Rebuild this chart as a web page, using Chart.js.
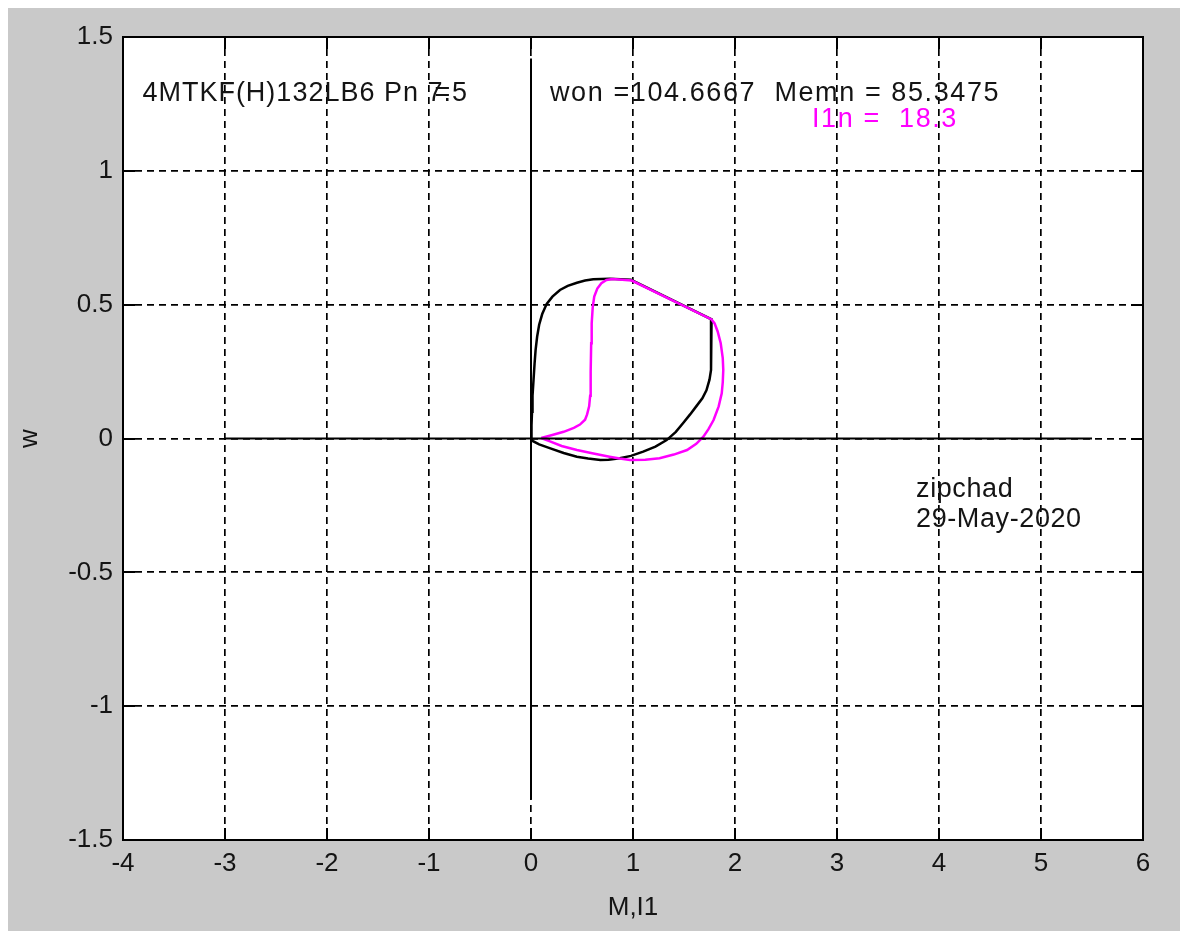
<!DOCTYPE html>
<html>
<head>
<meta charset="utf-8">
<script src="https://cdn.jsdelivr.net/npm/chart.js@4.4.1/dist/chart.umd.min.js"></script>
<style>
  html, body { margin: 0; padding: 0; background: #ffffff; }
  #wrap { position: relative; width: 1180px; height: 931px; }
</style>
</head>
<body>
<div id="wrap"><canvas id="c" width="1180" height="931"></canvas></div>
<script>
// M (black) and I1 (magenta) against w, both traced as closed loops
const blackM = [0, 0.005, 0.01, 0.015, 0.025, 0.035, 0.045, 0.06, 0.08, 0.11, 0.154, 0.21, 0.284, 0.36,
  0.45, 0.53, 0.61, 0.77, 0.98, 1.77, 1.765, 1.765, 1.765, 1.75, 1.72, 1.68, 1.62, 1.56, 1.49, 1.42,
  1.33, 1.22, 1.10, 0.98, 0.87, 0.76, 0.68, 0.56, 0.45, 0.32, 0.19, 0.08, 0.02, 0];
const blackW = [0, 0.05, 0.10, 0.16, 0.22, 0.28, 0.33, 0.38, 0.425, 0.465, 0.503, 0.53, 0.555, 0.57,
  0.582, 0.59, 0.595, 0.597, 0.593, 0.445, 0.43, 0.35, 0.256, 0.22, 0.18, 0.15, 0.12, 0.09, 0.057, 0.025,
  -0.006, -0.03, -0.049, -0.065, -0.074, -0.079, -0.08, -0.075, -0.068, -0.054, -0.037, -0.022, -0.01, 0];

const magentaI1 = [0.10, 0.20, 0.32, 0.42, 0.48, 0.53, 0.55, 0.57, 0.58, 0.585, 0.59, 0.595, 0.605, 0.62,
  0.65, 0.69, 0.74, 0.80, 0.987, 1.77, 1.80, 1.83, 1.86, 1.88, 1.885, 1.88, 1.87, 1.84, 1.79, 1.74,
  1.69, 1.62, 1.53, 1.40, 1.26, 1.12, 0.97, 0.87, 0.77, 0.60, 0.45, 0.30, 0.18, 0.10];
const magentaW = [0.002, 0.012, 0.025, 0.04, 0.052, 0.07, 0.09, 0.12, 0.16, 0.25, 0.356, 0.43, 0.49, 0.53,
  0.56, 0.58, 0.592, 0.596, 0.59, 0.445, 0.43, 0.40, 0.356, 0.30, 0.256, 0.21, 0.169, 0.12, 0.069, 0.035,
  0.007, -0.02, -0.043, -0.06, -0.074, -0.079, -0.08, -0.075, -0.068, -0.055, -0.043, -0.028, -0.01, 0.002];

// Reference axes through the origin
const hAxisM = [-3, 5.5];
const hAxisW = [0, 0];
const vAxisM = [0, 0];
const vAxisW = [-1.35, 1.42];

const xTicks = [-4, -3, -2, -1, 0, 1, 2, 3, 4, 5, 6];
const yTicks = [-1.5, -1, -0.5, 0, 0.5, 1, 1.5];
const xTitle = 'M,I1';
const yTitle = 'w';

const headText = '4MTKF(H)132LB6 Pn 7.5';
const ratedText = 'won =104.6667  Memn = 85.3475';
const currentText = 'I1n =  18.3';
const authorText = 'zipchad';
const dateText = '29-May-2020';

const zip = (xs, ys) => xs.map((x, i) => ({ x: x, y: ys[i] }));
const FONT = "'Liberation Sans', Arial, sans-serif";
const INK = '#141414';

const bgPlugin = {
  id: 'figureBackground',
  beforeDraw(chart) {
    const ctx = chart.ctx;
    ctx.save();
    ctx.fillStyle = '#ffffff';
    ctx.fillRect(0, 0, chart.width, chart.height);
    ctx.fillStyle = '#c9c9c9';
    ctx.fillRect(8, 8, chart.width - 8, chart.height - 8);
    const a = chart.chartArea;
    ctx.fillStyle = '#ffffff';
    ctx.fillRect(a.left, a.top, a.right - a.left, a.bottom - a.top);
    ctx.restore();
  }
};

const framePlugin = {
  id: 'boxFrame',
  afterDatasetsDraw(chart) {
    const ctx = chart.ctx;
    const a = chart.chartArea;
    const sx = chart.scales.x, sy = chart.scales.y;
    const len = 12;
    ctx.save();
    ctx.strokeStyle = '#000';
    ctx.lineWidth = 2;
    ctx.beginPath();
    xTicks.forEach(v => {
      const px = Math.round(sx.getPixelForValue(v));
      ctx.moveTo(px, a.bottom); ctx.lineTo(px, a.bottom - len);
      ctx.moveTo(px, a.top); ctx.lineTo(px, a.top + len);
    });
    yTicks.forEach(v => {
      const py = Math.round(sy.getPixelForValue(v));
      ctx.moveTo(a.left, py); ctx.lineTo(a.left + len, py);
      ctx.moveTo(a.right, py); ctx.lineTo(a.right - len, py);
    });
    ctx.stroke();
    ctx.strokeRect(a.left, a.top, a.right - a.left, a.bottom - a.top);

    // text notes placed in data coordinates
    const put = (txt, x, y, color, spacing) => {
      ctx.font = '27px ' + FONT;
      ctx.letterSpacing = spacing + 'px';
      ctx.fillStyle = color;
      ctx.textAlign = 'left';
      ctx.textBaseline = 'alphabetic';
      ctx.fillText(txt, sx.getPixelForValue(x), sy.getPixelForValue(y));
    };
    put(headText, -3.81, 1.262, INK, 1.0);
    // the '=' sign overprinted on the rating value
    ctx.font = '27px ' + FONT;
    ctx.letterSpacing = '1px';
    const wPre = ctx.measureText('4MTKF(H)132LB6 Pn 7').width;
    put('=', -3.81 + (wPre - 9) / (sx.getPixelForValue(1) - sx.getPixelForValue(0)), 1.262, INK, 0);
    put(ratedText, 0.186, 1.262, INK, 1.6);
    put(currentText, 2.755, 1.163, '#ff00ff', 1.6);
    put(authorText, 3.775, -0.219, INK, 0.6);
    put(dateText, 3.775, -0.330, INK, 0.6);
    ctx.restore();
  }
};

new Chart(document.getElementById('c'), {
  type: 'scatter',
  data: {
    datasets: [
      { data: zip(hAxisM, hAxisW), showLine: true, borderColor: '#000', borderWidth: 2, pointRadius: 0 },
      { data: zip(vAxisM, vAxisW), showLine: true, borderColor: '#000', borderWidth: 2, pointRadius: 0 },
      { data: zip(magentaI1, magentaW), showLine: true, borderColor: '#ff00ff', borderWidth: 2.5, pointRadius: 0, tension: 0 },
      { data: zip(blackM, blackW), showLine: true, borderColor: '#000', borderWidth: 2.5, pointRadius: 0, tension: 0 }
    ]
  },
  options: {
    responsive: false,
    animation: false,
    devicePixelRatio: 1,
    layout: { padding: { left: 0, top: 37, right: 37, bottom: 0 } },
    plugins: { legend: { display: false }, tooltip: { enabled: false } },
    scales: {
      x: {
        type: 'linear', min: -4, max: 6,
        afterFit(scale) { scale.height = 91; },
        afterBuildTicks(scale) { scale.ticks = xTicks.map(v => ({ value: v })); },
        ticks: { autoSkip: false, maxRotation: 0, padding: 8, color: INK,
                 font: { family: FONT, size: 26 }, callback: v => String(v) },
        grid: { color: '#000', lineWidth: 1.7, drawTicks: false },
        border: { display: false, dash: [7, 5] },
        title: { display: true, text: xTitle, color: INK, font: { family: FONT, size: 26 },
                 padding: { top: 0, bottom: 8 } }
      },
      y: {
        type: 'linear', min: -1.5, max: 1.5,
        afterFit(scale) { scale.width = 123; },
        afterBuildTicks(scale) { scale.ticks = yTicks.map(v => ({ value: v })); },
        ticks: { autoSkip: false, padding: 10, color: INK,
                 font: { family: FONT, size: 26 }, callback: v => String(v) },
        grid: { color: '#000', lineWidth: 1.7, drawTicks: false },
        border: { display: false, dash: [7, 5] },
        title: { display: true, text: yTitle, color: INK, font: { family: FONT, size: 26 },
                 padding: { top: 14, bottom: 0 } }
      }
    }
  },
  plugins: [bgPlugin, framePlugin]
});
</script>
</body>
</html>
